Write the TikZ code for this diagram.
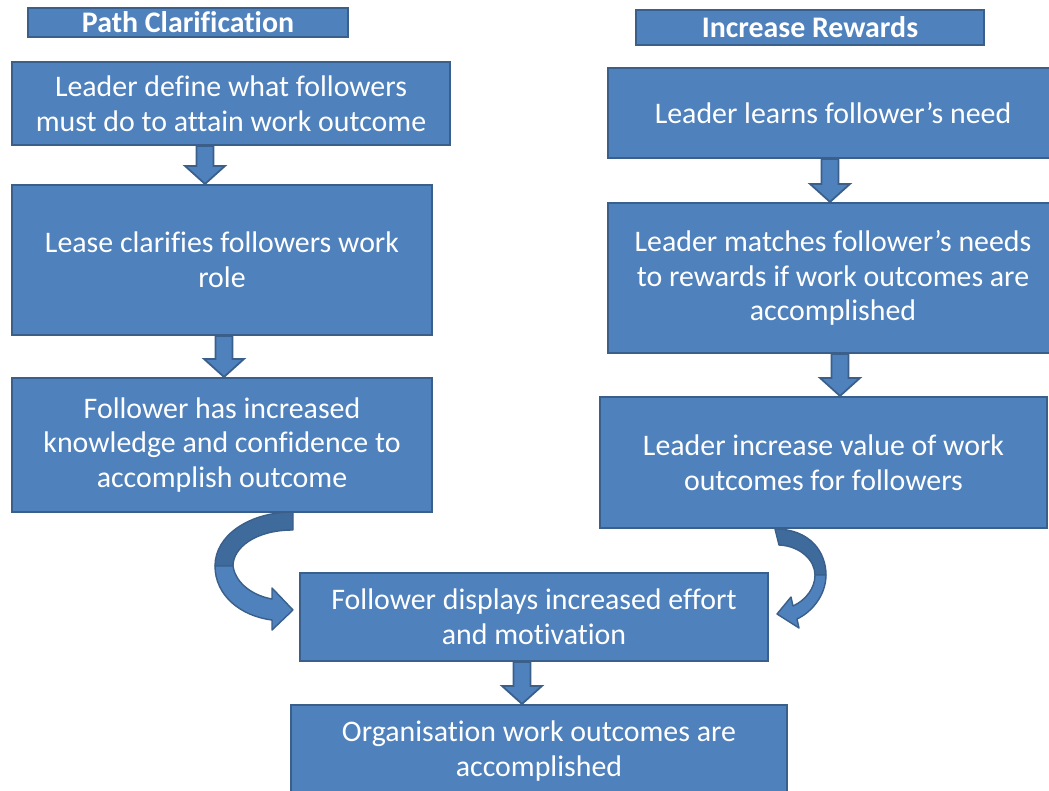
\documentclass[tikz,border=0pt]{standalone}
\usepackage{fontspec}
\setmainfont[Ligatures=CommonOff]{Carlito}
\usepackage{tikz}
\usetikzlibrary{positioning}
\usetikzlibrary{calc}
\definecolor{boxblue}{HTML}{4F81BD}
\definecolor{boxedge}{HTML}{3A5F8B}
\definecolor{backblue}{HTML}{3F6A9C}
\tikzset{box/.style={draw=boxedge, line width=1.2pt, fill=boxblue, text=white, align=center, inner sep=0pt,
  font=\fontsize{17}{19.8}\selectfont}}
\tikzset{title/.style={box, line width=1pt, font=\fontsize{17}{19}\selectfont\bfseries}}
\tikzset{blockarr/.style={draw=boxedge, line width=1pt, fill=boxblue, line join=miter}}
\tikzset{curvearr/.style={draw=boxedge, line width=0.8pt, fill=boxblue, line join=round}}

% straight block arrow from the bottom of #1 to the top of #2, at x = #3
\newcommand{\blockdown}[3]{%
\filldraw[blockarr] let \p1=(#1.south), \p2=(#2.north), \p3=(#3,0) in
  ({\x3-0.17cm},\y1) -- ({\x3+0.17cm},\y1) -- ({\x3+0.17cm},{\y2+0.36cm})
  -- ({\x3+0.4cm},{\y2+0.36cm}) -- (\x3,\y2) -- ({\x3-0.4cm},{\y2+0.36cm})
  -- ({\x3-0.17cm},{\y2+0.36cm}) -- cycle;
}

\begin{document}
\begin{tikzpicture}[x=0.02cm,y=-0.02cm]
\useasboundingbox (0,0) rectangle (1049,791);
\clip (0,0) rectangle (1049,791);

% headings
\node[title, minimum width=320*0.02cm, minimum height=29*0.02cm] (pathhead) at (188,22.5) {Path Clarification};
\node[title, minimum width=348*0.02cm, minimum height=35*0.02cm] (rewhead) at (810,27.5) {Increase Rewards};

% left column
\node[box, minimum width=438*0.02cm, minimum height=83*0.02cm] (define) at (231,103.5)
  {Leader define what followers\\must do to attain work outcome};
\node[box, minimum width=420*0.02cm, minimum height=150*0.02cm] (clarify) at (222,260)
  {Lease clarifies followers work\\role};
\node[box, minimum width=420*0.02cm, minimum height=134*0.02cm] (knowledge) at (222,445)
  {Follower has increased\\knowledge and confidence to\\accomplish outcome};

% right column
\node[box, minimum width=450*0.02cm, minimum height=90*0.02cm] (learns) at (833,113)
  {Leader learns follower’s need};
\node[box, minimum width=450*0.02cm, minimum height=150*0.02cm] (matches) at (833,278)
  {Leader matches follower’s needs\\to rewards if work outcomes are\\accomplished};
\node[box, minimum width=447*0.02cm, minimum height=131*0.02cm] (value) at (823.5,462.5)
  {Leader increase value of work\\outcomes for followers};

% bottom
\node[box, minimum width=468*0.02cm, minimum height=88*0.02cm] (effort) at (534,617)
  {Follower displays increased effort\\and motivation};
\node[box, minimum width=496*0.02cm, minimum height=92*0.02cm] (outcome) at (539,751)
  {Organisation work outcomes are\\accomplished};

\blockdown{define}{clarify}{205}
\blockdown{clarify}{knowledge}{224}
\blockdown{learns}{matches}{830}
\blockdown{matches}{value}{840}
\blockdown{effort}{outcome}{522}

% curved arrows into the bottom row
\filldraw[curvearr, fill=backblue] (293,512) -- (293,530) .. controls (255,530) and (233,548) .. (233,566)
  -- (215,566) .. controls (215,535) and (250,512) .. (293,512) -- cycle;
\filldraw[curvearr] (215,566) -- (233,566) .. controls (236,585) and (255,596) .. (272,599)
  -- (272,588) -- (293,610) -- (272,630) -- (272,620) .. controls (240,616) and (215,595) .. (215,566) -- cycle;

\filldraw[curvearr, fill=backblue] (775,529) .. controls (810,529) and (826,552) .. (826,575)
  -- (815,575) .. controls (815,560) and (800,546) .. (779,545) -- cycle;
\filldraw[curvearr] (826,575) .. controls (826,595) and (812,612) .. (797,619)
  -- (799,628) -- (777,614) -- (791,597) -- (793,606) .. controls (806,600) and (815,588) .. (815,575) -- cycle;
\end{tikzpicture}
\end{document}
